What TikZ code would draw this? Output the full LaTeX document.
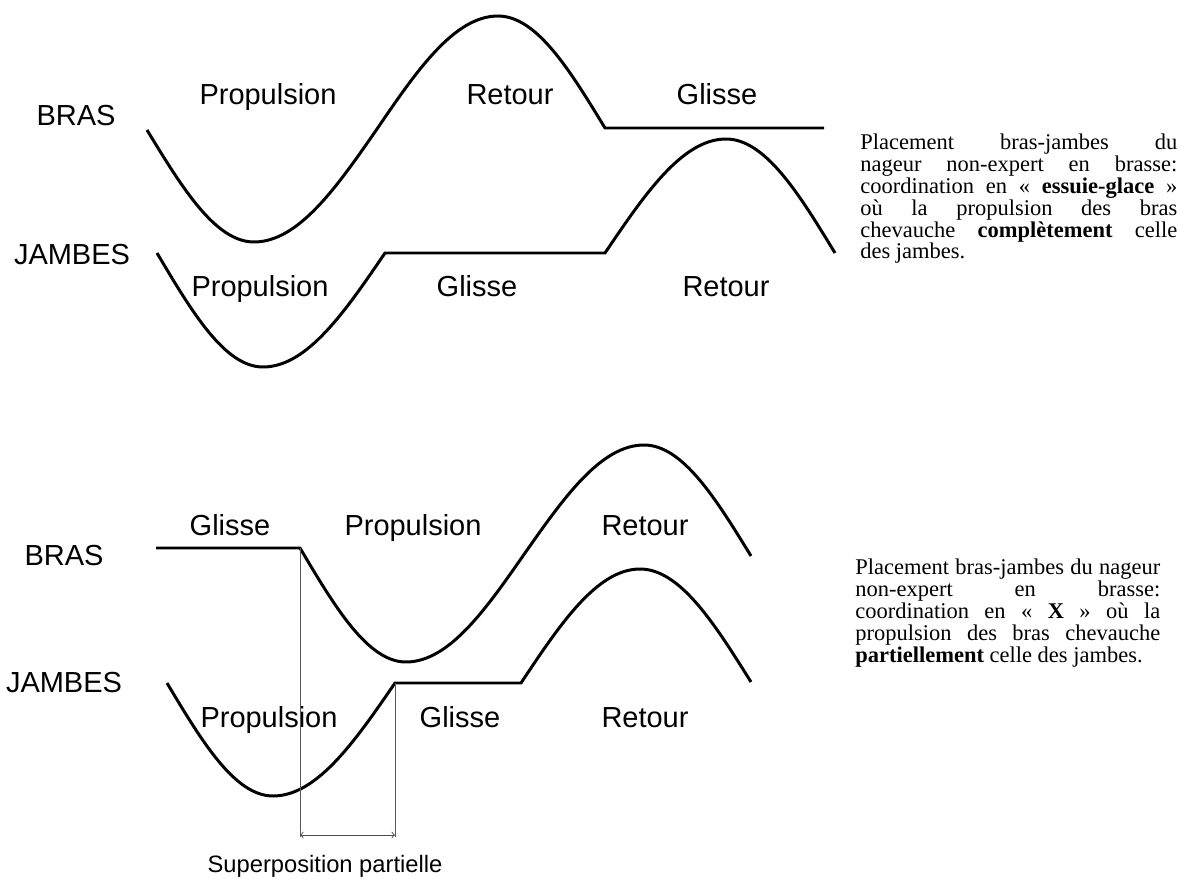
\documentclass[tikz,border=0pt]{standalone}
\usepackage{fontspec}
\setmainfont{Liberation Serif}
\newfontfamily\phasefont{Liberation Sans}
\usetikzlibrary{arrows, positioning, calc}

\begin{document}
% no hyphenation in the side notes
\tolerance=10000
\hyphenpenalty=10000
\exhyphenpenalty=10000
\begin{tikzpicture} [
    x=0.02cm, y=-0.02cm,
    curve/.style={line width=1.7pt, line join=miter},
    phase/.style={font=\phasefont\fontsize{16.5}{18}\selectfont, anchor=base, inner sep=0pt},
    caption/.style={font=\phasefont\fontsize{13.5}{15}\selectfont, anchor=base, inner sep=0pt},
    note/.style={font=\fontsize{12.8}{12.4}\selectfont, anchor=north west, inner sep=0pt, align=justify},
    guide/.style={gray!70!black, line width=0.5pt},
    span/.style={<->, >=to, gray!60!black, line width=0.5pt}
]
\useasboundingbox (0,0) rectangle (1179,881);

% Layer 1: key points of the curves
% top: arms
\coordinate (bras1-start) at (147,130);
\coordinate (bras1-low) at (254,242);
\coordinate (bras1-mid) at (377,129);
\coordinate (bras1-high) at (498,16);
\coordinate (bras1-glide) at (605,128);
\coordinate (bras1-end) at (824,128);
% top: legs
\coordinate (jambes1-start) at (157,253);
\coordinate (jambes1-low) at (263,367);
\coordinate (jambes1-glide) at (385,253);
\coordinate (jambes1-recover) at (605,253);
\coordinate (jambes1-high) at (726,139);
\coordinate (jambes1-end) at (835,253);
% bottom: arms
\coordinate (bras2-start) at (156,548);
\coordinate (bras2-drop) at (300,548);
\coordinate (bras2-low) at (406,662);
\coordinate (bras2-mid) at (525,553);
\coordinate (bras2-high) at (644,445);
\coordinate (bras2-end) at (751,556);
% bottom: legs
\coordinate (jambes2-start) at (167,683);
\coordinate (jambes2-low) at (273,796);
\coordinate (jambes2-glide) at (395,683);
\coordinate (jambes2-recover) at (521,683);
\coordinate (jambes2-high) at (640,569);
\coordinate (jambes2-end) at (751,682);
% overlap marker
\coordinate (guide-left) at (300,837);
\coordinate (guide-right) at (395,837);
\coordinate (overlap-left) at (300,835);
\coordinate (overlap-right) at (395,835);

% Layer 2: labels
\node[phase] (bras1) at (76,126) {BRAS};
\node[phase] (jambes1) at (72,265) {JAMBES};
\node[phase] (b1-prop) at (268,105) {Propulsion};
\node[phase] (b1-ret) at (510,105) {Retour};
\node[phase] (b1-gl) at (717,105) {Glisse};
\node[phase] (j1-prop) at (260,297) {Propulsion};
\node[phase] (j1-gl) at (477,297) {Glisse};
\node[phase] (j1-ret) at (726,297) {Retour};

\node[phase] (bras2) at (64,565) {BRAS};
\node[phase] (jambes2) at (64,692) {JAMBES};
\node[phase] (b2-gl) at (230,535) {Glisse};
\node[phase] (b2-prop) at (413,535) {Propulsion};
\node[phase] (b2-ret) at (645,535) {Retour};
\node[phase] (j2-prop) at (269,727) {Propulsion};
\node[phase] (j2-gl) at (460,727) {Glisse};
\node[phase] (j2-ret) at (645,727) {Retour};

\node[caption] (overlap-label) at (325,872) {Superposition partielle};

% side notes
\node[note, text width=6.34cm] (note-top) at (860,134) {Placement bras-jambes du\linebreak nageur non-expert en brasse:\linebreak coordination en « \textbf{essuie-glace} »\linebreak où la propulsion des bras\linebreak chevauche \textbf{complètement} celle\linebreak des jambes.};
\node[note, text width=6.1cm] (note-bottom) at (855,559) {Placement bras-jambes du nageur\linebreak non-expert en brasse:\linebreak coordination en « \textbf{X} » où la\linebreak propulsion des bras chevauche\linebreak \textbf{partiellement} celle des jambes.};

% Layer 3: curves
\draw[curve] (bras1-start) sin (bras1-low) cos (bras1-mid) sin (bras1-high) cos (bras1-glide) -- (bras1-end);
\draw[curve] (jambes1-start) sin (jambes1-low) cos (jambes1-glide) -- (jambes1-recover) sin (jambes1-high) cos (jambes1-end);
\draw[curve] (bras2-start) -- (bras2-drop) sin (bras2-low) cos (bras2-mid) sin (bras2-high) cos (bras2-end);
\draw[curve] (jambes2-start) sin (jambes2-low) cos (jambes2-glide) -- (jambes2-recover) sin (jambes2-high) cos (jambes2-end);

% partial overlap
\draw[guide] (bras2-drop) -- (guide-left);
\draw[guide] (jambes2-glide) -- (guide-right);
\draw[span] (overlap-left) -- (overlap-right);

\end{tikzpicture}
\end{document}
